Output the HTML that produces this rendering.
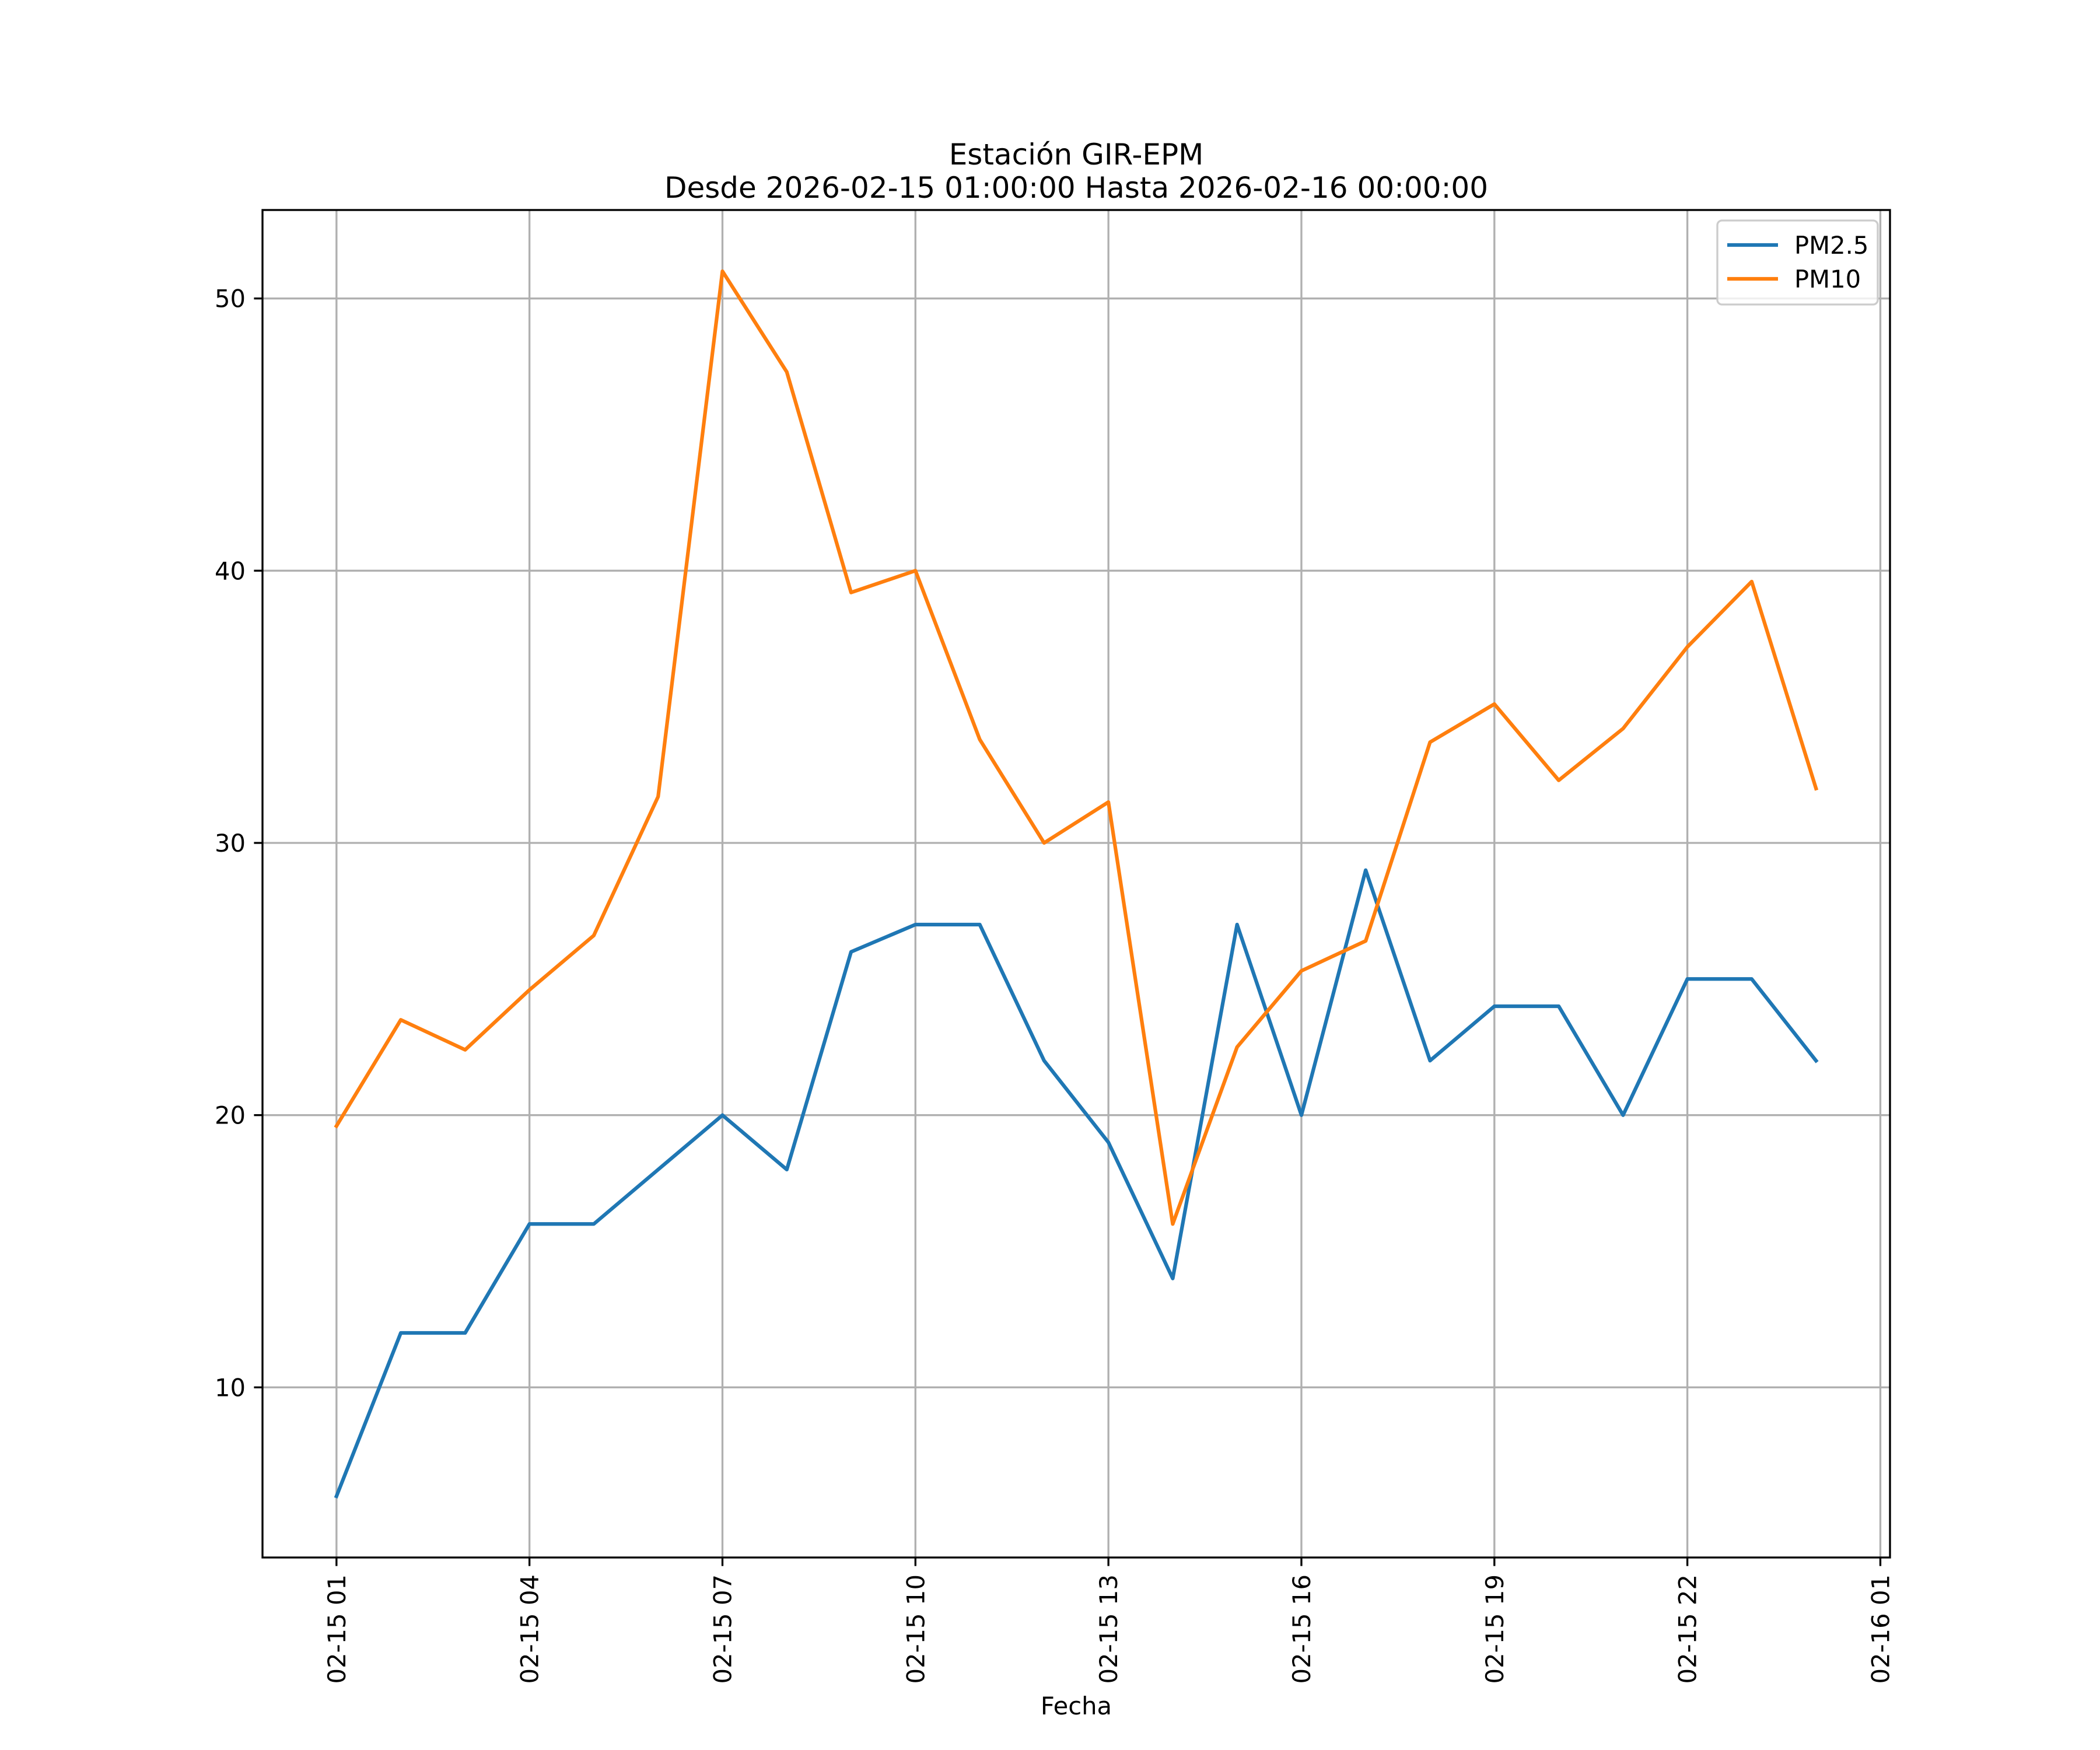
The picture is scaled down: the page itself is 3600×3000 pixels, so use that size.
<!DOCTYPE html>
<html><head><meta charset="utf-8"><style>
html,body{margin:0;padding:0;background:#fff}
svg{display:block}
text{font-family:"DejaVu Sans","Liberation Sans",sans-serif;fill:#000}
</style></head><body>
<svg id="chart" width="3600" height="3000" viewBox="0 0 3600 3000" xmlns="http://www.w3.org/2000/svg">
<rect width="3600" height="3000" fill="#fff"/>
<g id="grid"></g>
<g id="series"></g>
<rect x="450" y="360" width="2790" height="2310" fill="none" stroke="#000" stroke-width="3.33"/>
<g id="ticks"></g>
<text x="1845" y="282" font-size="50" text-anchor="middle">Estación GIR-EPM</text>
<text x="1845" y="339" font-size="50" text-anchor="middle">Desde 2026-02-15 01:00:00 Hasta 2026-02-16 00:00:00</text>
<text x="1845" y="2939" font-size="41.7" text-anchor="middle">Fecha</text>
<g>
<rect x="2944" y="378" width="275" height="144" rx="8" fill="#fff" fill-opacity="0.8" stroke="#cccccc" stroke-width="3.33"/>
<line x1="2961" y1="420" x2="3048" y2="420" stroke="#1f77b4" stroke-width="6.25"/>
<text x="3076" y="435" font-size="41.7">PM2.5</text>
<line x1="2961" y1="478" x2="3048" y2="478" stroke="#ff7f0e" stroke-width="6.25"/>
<text x="3076" y="493" font-size="41.7">PM10</text>
</g>
</svg>
<script>
const hours = [1,2,3,4,5,6,7,8,9,10,11,12,13,14,15,16,17,18,19,20,21,22,23,24];
const pm25 = [6,12,12,16,16,18,20,18,26,27,27,22,19,14,27,20,29,22,24,24,20,25,25,22];
const pm10 = [19.6,23.5,22.4,24.6,26.6,31.7,51,47.3,39.2,40,33.8,30,31.5,16,22.5,25.3,26.4,33.7,35.1,32.3,34.2,37.2,39.6,32];
const xTicks = [1,4,7,10,13,16,19,22,25];
const xTickLabels = ["02-15 01","02-15 04","02-15 07","02-15 10","02-15 13","02-15 16","02-15 19","02-15 22","02-16 01"];
const yTicks = [10,20,30,40,50];

const L=450,R=3240,T=360,B=2670;
const xmin=-0.15,xmax=25.15,ymin=3.75,ymax=53.25;
const X=v=>L+(v-xmin)/(xmax-xmin)*(R-L);
const Y=v=>B-(v-ymin)/(ymax-ymin)*(B-T);
const NS="http://www.w3.org/2000/svg";
function mk(tag,attrs,parent){const e=document.createElementNS(NS,tag);for(const k in attrs)e.setAttribute(k,attrs[k]);parent.appendChild(e);return e;}
const grid=document.getElementById('grid'),ticks=document.getElementById('ticks'),series=document.getElementById('series');
xTicks.forEach((t,i)=>{
  const x=X(t);
  const g=mk('line',{x1:x,y1:T,x2:x,y2:B,stroke:'#b0b0b0','stroke-width':3.33},grid);
  
  
  mk('line',{x1:x,y1:B,x2:x,y2:B+14.6,stroke:'#000','stroke-width':3.33},ticks);
  const tx=mk('text',{x:0,y:0,'font-size':41.7,'text-anchor':'end',transform:`translate(${x+15},${B+29}) rotate(-90)`},ticks);
  tx.textContent=xTickLabels[i];
  
  
});
yTicks.forEach(t=>{
  const y=Y(t);
  const g=mk('line',{x1:L,y1:y,x2:R,y2:y,stroke:'#b0b0b0','stroke-width':3.33},grid);
  
  
  mk('line',{x1:L-14.6,y1:y,x2:L,y2:y,stroke:'#000','stroke-width':3.33},ticks);
  const tx=mk('text',{x:L-29,y:y+15,'font-size':41.7,'text-anchor':'end'},ticks);
  tx.textContent=String(t);
  
  
});
function line(vals,color,name){
  const d=vals.map((v,i)=>(i?'L':'M')+X(hours[i]).toFixed(1)+' '+Y(v).toFixed(1)).join(' ');
  const p=mk('path',{d:d,fill:'none',stroke:color,'stroke-width':6.25,'stroke-linejoin':'round','stroke-linecap':'square'},series);
  
  
}
line(pm25,'#1f77b4','pm25-line');
line(pm10,'#ff7f0e','pm10-line');
</script>
</body></html>
